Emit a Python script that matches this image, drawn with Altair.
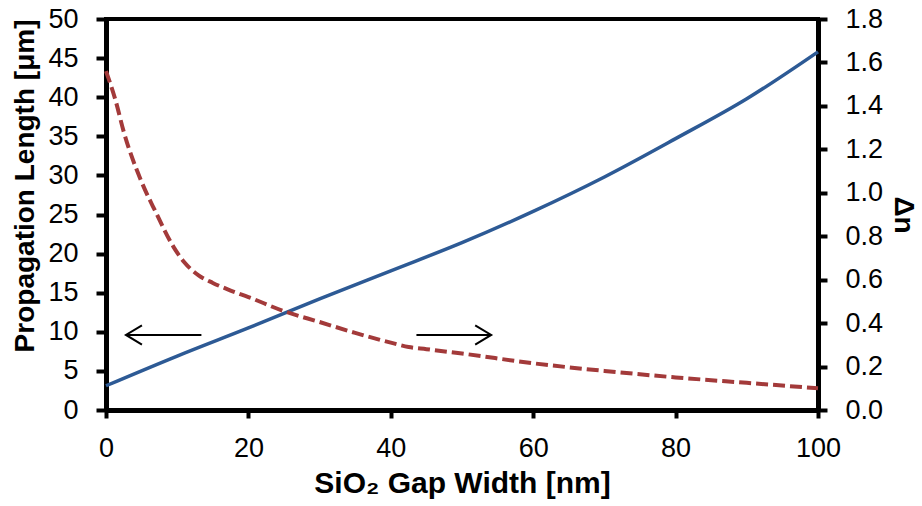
import altair as alt
import pandas as pd

# Propagation length (left axis) vs SiO2 gap width
gap_nm = [0, 10, 20, 30, 40, 50, 60, 70, 80, 90, 100]
prop_len_um = [3.1, 6.9, 10.5, 14.2, 17.8, 21.4, 25.4, 29.8, 34.7, 39.8, 45.8]

# Index contrast Δn (right axis) vs SiO2 gap width
gap_dn_nm = [0, 1.3, 2.5, 5, 7, 9.5, 11, 13, 15, 17.5, 20, 25, 30, 35, 40,
             42.5, 45, 50, 60, 70, 80, 90, 100]
delta_n = [1.56, 1.43, 1.28, 1.05, 0.91, 0.75, 0.68, 0.62, 0.585, 0.55, 0.52,
           0.455, 0.405, 0.355, 0.31, 0.29, 0.28, 0.26, 0.215, 0.18, 0.15,
           0.125, 0.10]

# Arrows telling which axis each curve belongs to (left-axis units)
arrow_tail_nm = [13.4, 43.6]
arrow_tip_nm = [2.8, 54.1]
arrow_level = [9.6, 9.6]

x_ticks = [0, 20, 40, 60, 80, 100]
left_ticks = [0, 5, 10, 15, 20, 25, 30, 35, 40, 45, 50]
right_ticks = [0.0, 0.2, 0.4, 0.6, 0.8, 1.0, 1.2, 1.4, 1.6, 1.8]

BLUE = "#2D5A95"
RED = "#A33A3A"

prop_df = pd.DataFrame({"gap": gap_nm, "val": prop_len_um})
dn_df = pd.DataFrame({"gap": gap_dn_nm, "dn": delta_n})
left_arrow = pd.DataFrame({"gap": arrow_tail_nm[:1], "tip": arrow_tip_nm[:1], "val": arrow_level[:1]})
right_arrow = pd.DataFrame({"gap": arrow_tail_nm[1:], "tip": arrow_tip_nm[1:], "val": arrow_level[1:]})

x_scale = alt.Scale(domain=[0, 100], nice=False)
x_axis = alt.Axis(
    values=x_ticks, title="SiO₂ Gap Width [nm]", titleFontSize=30,
    tickSize=8, labelPadding=17, titlePadding=7, labelFlush=False,
)
left_scale = alt.Scale(domain=[0, 50], nice=False)
left_axis = alt.Axis(
    values=left_ticks, title="Propagation Length [μm]", titleAnchor="end",
    tickSize=10, labelPadding=18, titlePadding=8,
)
right_scale = alt.Scale(domain=[0, 1.8], nice=False)
right_axis = alt.Axis(
    values=right_ticks, format=".1f", title="Δn", orient="right",
    tickSize=9, labelPadding=18, titlePadding=6,
)

X = alt.X("gap:Q", scale=x_scale, axis=x_axis)
Y_LEFT = alt.Y("val:Q", scale=left_scale, axis=left_axis)

blue = alt.Chart(prop_df).mark_line(
    color=BLUE, strokeWidth=3.5, interpolate="monotone"
).encode(x=X, y=Y_LEFT)


def arrow(df, head_path):
    shaft = alt.Chart(df).mark_rule(color="black", strokeWidth=2).encode(
        x=X, x2="tip:Q", y=Y_LEFT,
    )
    head = alt.Chart(df).mark_point(
        shape=head_path, size=1024, filled=False,
        stroke="black", strokeWidth=2, opacity=1,
    ).encode(
        x=alt.X("tip:Q", scale=x_scale, axis=x_axis), y=Y_LEFT,
    )
    return [shaft, head]


left_group = alt.layer(
    blue,
    *arrow(left_arrow, "M1,-0.6L0,0L1,0.6"),
    *arrow(right_arrow, "M-1,-0.6L0,0L-1,0.6"),
)

red = alt.Chart(dn_df).mark_line(
    color=RED, strokeWidth=4, strokeDash=[12, 5], interpolate="monotone"
).encode(
    x=X,
    y=alt.Y("dn:Q", scale=right_scale, axis=right_axis),
)

chart = alt.layer(left_group, red).resolve_scale(y="independent").properties(
    width=712,
    height=391,
    autosize=alt.AutoSizeParams(type="none"),
    padding={"left": 106, "top": 19, "right": 104, "bottom": 96},
    background="white",
).configure_view(
    stroke="black", strokeWidth=4,
).configure_axis(
    grid=False,
    domainColor="black", domainWidth=5,
    tickColor="black", tickWidth=4,
    labelFont="Liberation Sans", labelFontSize=27, labelColor="black",
    titleFont="Liberation Sans", titleFontSize=28, titleFontWeight="bold",
    titleColor="black",
)

chart.save("out.html", embed_options={"renderer": "svg", "actions": False})
